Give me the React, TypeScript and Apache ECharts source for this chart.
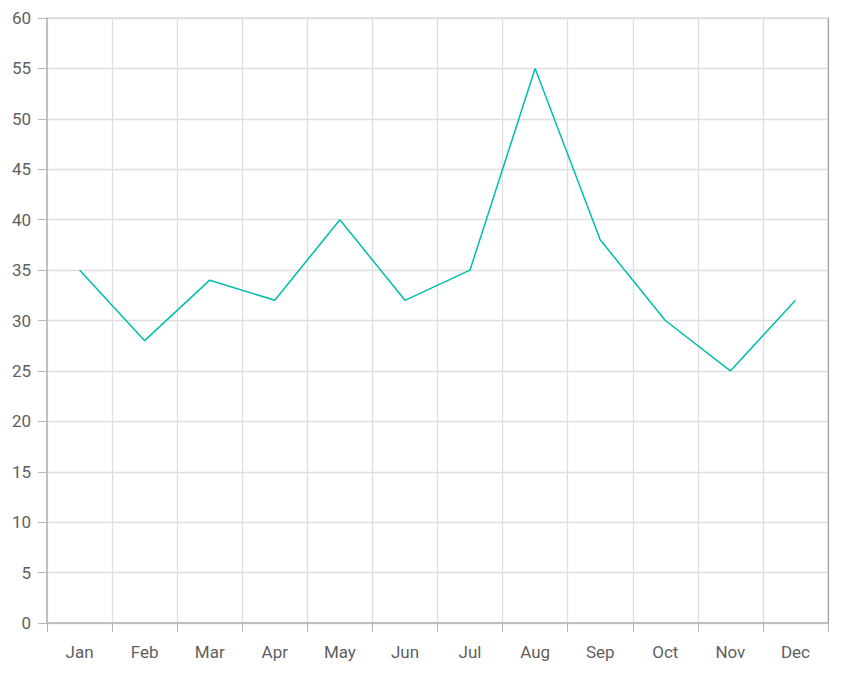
import * as echarts from "echarts";
import { useEffect, useRef } from "react";

const MONTHS = ["Jan", "Feb", "Mar", "Apr", "May", "Jun", "Jul", "Aug", "Sep", "Oct", "Nov", "Dec"];
const VALUES = [35, 28, 34, 32, 40, 32, 35, 55, 38, 30, 25, 32];

const LINE_COLOR = "#00bdae";
const GRID_LINE = "#dedede";
const AXIS_LINE = "#b5b5b5";
const LABEL_COLOR = "#5f5f5f";
const FONT = "Roboto, 'Noto Sans', sans-serif";

function buildOption(): echarts.EChartsOption {
  return {
    animation: false,
    grid: {
      left: 47,
      right: 28,
      top: 18,
      bottom: 60,
      show: true,
      borderColor: "#c4c4c4",
      borderWidth: 1,
    },
    xAxis: {
      type: "category",
      data: MONTHS,
      boundaryGap: true,
      axisLine: { lineStyle: { color: AXIS_LINE, width: 1.5 } },
      axisTick: { show: true, length: 9, alignWithLabel: false, lineStyle: { color: AXIS_LINE } },
      axisLabel: { color: LABEL_COLOR, fontSize: 17, fontFamily: FONT, margin: 20 },
      splitLine: { show: true, lineStyle: { color: GRID_LINE, width: 1.3 } },
    },
    yAxis: [
      {
        type: "value",
        min: 0,
        max: 60,
        interval: 5,
        axisLine: { show: true, lineStyle: { color: AXIS_LINE, width: 1.5 } },
        axisTick: { show: true, length: 9, lineStyle: { color: AXIS_LINE } },
        axisLabel: { color: LABEL_COLOR, fontSize: 17, fontFamily: FONT, margin: 16 },
        splitLine: { show: true, lineStyle: { color: GRID_LINE, width: 1.3 } },
      },
      {
        type: "value",
        position: "right",
        min: 0,
        max: 60,
        interval: 5,
        axisLine: { show: true, lineStyle: { color: "#9e9e9e" } },
        axisTick: { show: false },
        axisLabel: { show: false },
        splitLine: { show: false },
      },
    ],
    series: [
      {
        type: "line",
        data: VALUES,
        showSymbol: false,
        symbol: "none",
        lineStyle: { color: LINE_COLOR, width: 1.5 },
        itemStyle: { color: LINE_COLOR },
      },
    ],
  };
}

export default function App() {
  const ref = useRef<HTMLDivElement | null>(null);

  useEffect(() => {
    const el = ref.current;
    if (!el) {
      return undefined;
    }
    const chart = echarts.init(el, undefined, { renderer: "svg" });
    chart.setOption(buildOption());
    return () => {
      chart.dispose();
    };
  }, []);

  return (
    <div
      ref={ref}
      style={{ position: "absolute", left: 0, top: 0, width: 856, height: 683, background: "#ffffff" }}
    />
  );
}
